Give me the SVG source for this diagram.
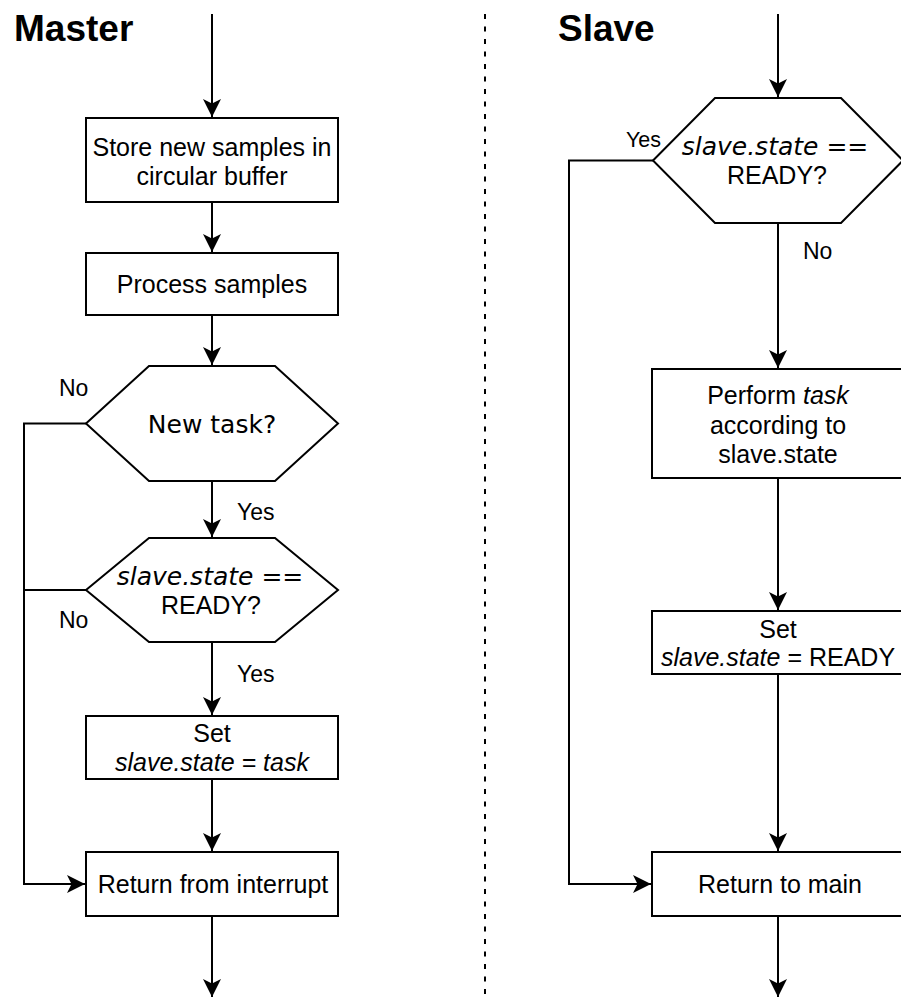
<svg xmlns="http://www.w3.org/2000/svg" width="901" height="998" viewBox="0 0 901 998">
<defs>
<style>
.shape{fill:#fff;stroke:#000;stroke-width:2}
.edge{fill:none;stroke:#000;stroke-width:2}
.t{font-family:"Liberation Sans",Arial,Helvetica,sans-serif;font-size:25px;fill:#000;text-anchor:middle}
.dv{font-family:"DejaVu Sans",Verdana,sans-serif;font-size:25px;fill:#000;text-anchor:middle}
.lbl{font-family:"Liberation Sans",Arial,Helvetica,sans-serif;font-size:23px;fill:#000}
.title{font-family:"Liberation Sans",Arial,Helvetica,sans-serif;font-size:37px;font-weight:bold;fill:#000}
.i{font-style:italic}
</style>
<marker id="arr" viewBox="-19 -10 20 20" refX="0" refY="0" markerWidth="20" markerHeight="20" markerUnits="userSpaceOnUse" orient="auto">
<path d="M0,0 L-18,-9 L-13.5,0 L-18,9 Z" fill="#000"/>
</marker>
</defs>
<rect width="901" height="998" fill="#fff"/>

<line x1="485" y1="14" x2="485" y2="998" stroke="#000" stroke-width="2" stroke-dasharray="5 7.5"/>

<text class="title" x="14" y="41">Master</text>
<text class="title" x="558" y="41">Slave</text>

<g id="connectors">
<path class="edge" d="M212,14 V117" marker-end="url(#arr)"/>
<path class="edge" d="M212,202 V252" marker-end="url(#arr)"/>
<path class="edge" d="M212,315 V365" marker-end="url(#arr)"/>
<path class="edge" d="M212,481 V537" marker-end="url(#arr)"/>
<path class="edge" d="M212,642 V715" marker-end="url(#arr)"/>
<path class="edge" d="M212,779 V851" marker-end="url(#arr)"/>
<path class="edge" d="M212,916 V997" marker-end="url(#arr)"/>
<path class="edge" d="M86,423.5 H24 V884 H85" marker-end="url(#arr)"/>
<path class="edge" d="M86,590 H24"/>
<path class="edge" d="M778,14 V97" marker-end="url(#arr)"/>
<path class="edge" d="M778,223 V368" marker-end="url(#arr)"/>
<path class="edge" d="M778,478 V610" marker-end="url(#arr)"/>
<path class="edge" d="M778,674 V851" marker-end="url(#arr)"/>
<path class="edge" d="M778,916 V997" marker-end="url(#arr)"/>
<path class="edge" d="M653,160.5 H569 V884 H651" marker-end="url(#arr)"/>
<text class="lbl" x="59" y="396">No</text>
<text class="lbl" x="237" y="520">Yes</text>
<text class="lbl" x="59" y="628">No</text>
<text class="lbl" x="237" y="682">Yes</text>
<text class="lbl" x="626" y="147" style="font-size:21.5px">Yes</text>
<text class="lbl" x="803" y="259">No</text>
</g>

<g id="m-store">
<rect class="shape" x="86" y="118" width="252" height="84"/>
<text class="t" x="212" y="156">Store new samples in</text>
<text class="t" x="212" y="184.5">circular buffer</text>
</g>
<g id="m-process">
<rect class="shape" x="86" y="253" width="252" height="62"/>
<text class="t" x="212" y="293">Process samples</text>
</g>
<g id="m-newtask">
<polygon class="shape" points="86,423.5 149,366 275,366 338,423.5 275,481 149,481"/>
<text class="dv" x="212" y="433">New task?</text>
</g>
<g id="m-ready">
<polygon class="shape" points="86,590 149,538 275,538 338,590 275,642 149,642"/>
<text class="dv i" x="210" y="585">slave.state ==</text>
<text class="t" x="211" y="614">READY?</text>
</g>
<g id="m-set">
<rect class="shape" x="86" y="716" width="252" height="63"/>
<text class="t" x="212" y="742">Set</text>
<text class="t i" x="212" y="771">slave.state = task</text>
</g>
<g id="m-return">
<rect class="shape" x="86" y="852" width="252" height="64"/>
<text class="t" x="213" y="893">Return from interrupt</text>
</g>

<g id="s-ready">
<polygon class="shape" points="653,160.5 715,98 841,98 903,160.5 841,223 715,223"/>
<text class="dv i" x="775" y="155">slave.state ==</text>
<text class="t" x="777" y="184">READY?</text>
</g>
<g id="s-perform">
<rect class="shape" x="652" y="369" width="252" height="109"/>
<text class="t" x="778" y="404">Perform <tspan class="i">task</tspan></text>
<text class="t" x="778" y="433.5">according to</text>
<text class="t" x="778" y="463">slave.state</text>
</g>
<g id="s-set">
<rect class="shape" x="652" y="611" width="252" height="63"/>
<text class="t" x="778" y="637.5">Set</text>
<text class="t" x="778" y="666"><tspan class="i">slave.state</tspan> = READY</text>
</g>
<g id="s-return">
<rect class="shape" x="652" y="852" width="252" height="64"/>
<text class="t" x="780" y="893">Return to main</text>
</g>
</svg>
